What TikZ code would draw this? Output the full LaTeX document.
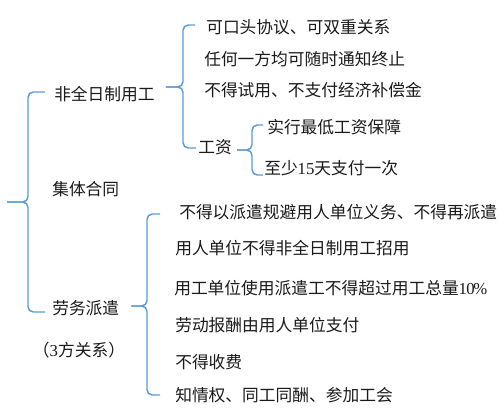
\documentclass[tikz,border=0pt]{standalone}
\usepackage{fontspec}
\setmainfont{Noto Sans CJK SC}
\newfontfamily\lat{Liberation Serif}
\usetikzlibrary{calc}
\definecolor{braceblue}{HTML}{5B9BD5}
\definecolor{txt}{HTML}{1A1A1A}
\begin{document}
\begin{tikzpicture}[x=0.75pt,y=-0.75pt,
  lbl/.style={anchor=west,inner sep=0pt,text=txt,font=\fontsize{12.55pt}{15pt}\selectfont},
  brace/.style={draw=braceblue,line width=1.1pt,rounded corners=4pt}]
\useasboundingbox (0,0) rectangle (500,409);
% level 1
\node[lbl] (n1) at (54,94) {非全日制用工};
\node[lbl] (n2) at (52,189) {集体合同};
\node[lbl] (n3) at (52,308) {劳务派遣};
\node[lbl,anchor=center] (n3b) at (79,350) {（{\lat 3}方关系）};
% level 2: part-time
\node[lbl] (a1) at (206,27) {可口头协议、可双重关系};
\node[lbl] (a2) at (204,59) {任何一方均可随时通知终止};
\node[lbl] (a3) at (204,90) {不得试用、不支付经济补偿金};
\node[lbl] (a4) at (198,147) {工资};
% wages
\node[lbl] (b1) at (267,127) {实行最低工资保障};
\node[lbl] (b2) at (264,168) {至少{\lat 15}天支付一次};
% dispatch
\node[lbl] (c1) at (179,212) {不得以派遣规避用人单位义务、不得再派遣};
\node[lbl] (c2) at (175,248) {用人单位不得非全日制用工招用};
\node[lbl] (c3) at (174,288) {用工单位使用派遣工不得超过用工总量{\lat 1\kern-0.6pt0\kern-0.9pt\%}};
\node[lbl] (c4) at (175,325) {劳动报酬由用人单位支付};
\node[lbl] (c5) at (175,362) {不得收费};
\node[lbl] (c6) at (175,395) {知情权、同工同酬、参加工会};
% root brace
\coordinate (vR) at (28,0);
\coordinate (root) at (7,202);
\draw[brace] ($(n1.west)+(-9,-2)$) coordinate (e1) -- (e1 -| vR) -- (root -| vR) -- (root);
\draw[brace] ($(n3.west)+(-7,4)$) coordinate (e3) -- (e3 -| vR) -- (root -| vR) -- (root);
% brace A
\coordinate (vA) at (183,0);
\coordinate (tA) at ($(n1.east)+(11,-7)$);
\draw[brace] ($(a1.west)+(-11,-2)$) coordinate (ea1) -- (ea1 -| vA) -- (tA -| vA) -- (tA);
\draw[brace] ($(a4.west)+(-2,1)$) coordinate (ea4) -- (ea4 -| vA) -- (tA -| vA) -- (tA);
% brace B
\coordinate (vB) at (252,0);
\coordinate (tB) at ($(a4.east)+(5,3)$);
\draw[brace] ($(b1.west)+(-4,-2)$) coordinate (eb1) -- (eb1 -| vB) -- (tB -| vB) -- (tB);
\draw[brace] ($(b2.west)+(-1,7)$) coordinate (eb2) -- (eb2 -| vB) -- (tB -| vB) -- (tB);
% brace C
\coordinate (vC) at (147,0);
\coordinate (tC) at ($(n3.east)+(12,-2)$);
\draw[brace] ($(c1.west)+(-19,2)$) coordinate (ec1) -- (ec1 -| vC) -- (tC -| vC) -- (tC);
\draw[brace] ($(c6.west)+(-15,0)$) coordinate (ec6) -- (ec6 -| vC) -- (tC -| vC) -- (tC);
\end{tikzpicture}
\end{document}
